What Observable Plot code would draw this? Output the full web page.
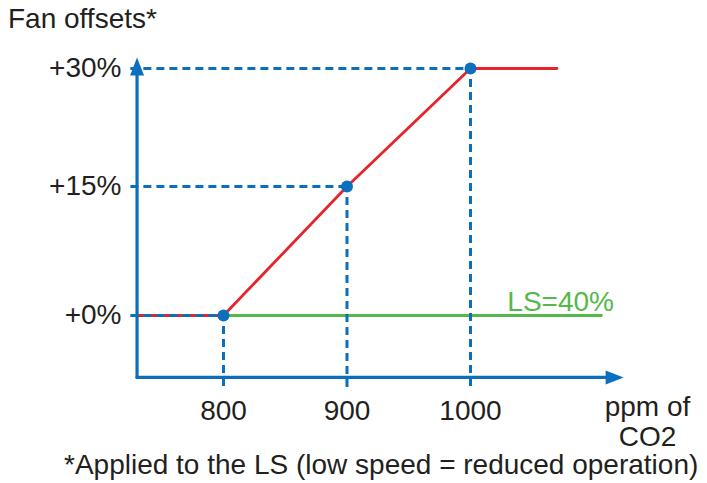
<!DOCTYPE html>
<html>
<head>
<meta charset="utf-8">
<script src="https://cdn.jsdelivr.net/npm/d3@7"></script>
<script src="https://cdn.jsdelivr.net/npm/@observablehq/plot@0.6"></script>
<style>
  body { margin: 0; background: #fff; }
  #wrap { position: relative; width: 707px; height: 483px; font-family: "Liberation Sans", Arial, sans-serif; color: #231f20; }
  #title { position: absolute; left: 8px; top: 4px; font-size: 28px; line-height: 30px; white-space: nowrap; }
  #caption { position: absolute; left: 0; top: 450px; width: 707px; padding-left: 64px; box-sizing: border-box; font-size: 28px; line-height: 30px; white-space: nowrap; }
  #chart { position: absolute; left: 0; top: 0; }
</style>
</head>
<body>
<div id="wrap">
  <div id="chart"></div>
  <div id="title"></div>
  <div id="caption"></div>
</div>
<script>
// ---- data ----
const titleText = "Fan offsets*";
const captionText = "*Applied to the LS (low speed = reduced operation)";
const xAxisLabel = "ppm of\nCO2";
const ppm = [800, 900, 1000];            // breakpoints (x)
const offsets = [0, 15, 30];             // fan offset % at breakpoints (y)
const xTickLabels = ["800", "900", "1000"];
const yTickLabels = ["+0%", "+15%", "+30%"];
const redX = [730, 800, 900, 1000, 1070]; // fan offset curve
const redY = [0, 0, 15, 30, 30];
const greenX = [800, 1106];               // LS = 40% line
const greenY = [0, 0];
const greenLabel = "LS=40%";
const greenLabelX = [1073];
const greenLabelY = [0];
const axisXStart = 730, axisXEnd = 1124;  // x-axis extent (ppm)
const axisYBottom = -7.2, axisYTop = 31.4; // y-axis extent (%)
const guideXStart = 725;                   // horizontal guide start
const guideYEnd = -8.4;                    // vertical guide end

// ---- colours ----
const BLUE = "#0b6fbe", RED = "#e8232b", GREEN = "#55b84a", TEXT = "#231f20";

document.getElementById("title").textContent = titleText;
document.getElementById("caption").textContent = captionText;

const pts = ppm.map((x, i) => ({x, y: offsets[i]}));
const red = redX.map((x, i) => ({x, y: redY[i]}));
const green = greenX.map((x, i) => ({x, y: greenY[i]}));
const hGuides = pts.map(p => ({x1: guideXStart, x2: p.x, y: p.y}));
const vGuides = pts.map(p => ({x: p.x, y1: p.y, y2: guideYEnd}));
const xAxisLine = [{x: axisXStart, y: axisYBottom}, {x: axisXEnd - 8, y: axisYBottom}];
const yAxisLine = [{x: axisXStart, y: axisYBottom}, {x: axisXStart, y: axisYTop - 1}];

// filled arrowhead with its tip at the origin, pointing up
const arrowHead = {
  draw(ctx) {
    ctx.moveTo(0, 0);
    ctx.lineTo(7, 18);
    ctx.lineTo(-7, 18);
    ctx.closePath();
  }
};

const chart = Plot.plot({
  width: 707,
  height: 483,
  marginLeft: 137,
  marginRight: 60,
  marginTop: 40,
  marginBottom: 106,
  style: { fontFamily: "'Liberation Sans', Arial, sans-serif", fontSize: "28px", color: TEXT, background: "transparent", overflow: "visible" },
  x: { type: "linear", domain: [800, 1000], range: [223, 470], axis: null },
  y: { type: "linear", domain: offsets, range: [315, 186, 68], axis: null },
  marks: [
    // red curve
    Plot.line(red, { x: "x", y: "y", stroke: RED, strokeWidth: 2.8 }),
    // green LS line
    Plot.line(green, { x: "x", y: "y", stroke: GREEN, strokeWidth: 2.8 }),
    // dashed guides
    Plot.ruleY(hGuides, { x1: "x1", x2: "x2", y: "y", stroke: BLUE, strokeWidth: 3, strokeDasharray: "8,5" }),
    Plot.ruleX(vGuides, { x: "x", y1: "y1", y2: "y2", stroke: BLUE, strokeWidth: 3, strokeDasharray: "8,5", strokeDashoffset: 2 }),
    // axes lines
    Plot.line(xAxisLine, { x: "x", y: "y", stroke: BLUE, strokeWidth: 3.2 }),
    Plot.line(yAxisLine, { x: "x", y: "y", stroke: BLUE, strokeWidth: 3.2 }),
    Plot.dot([{x: axisXEnd, y: axisYBottom}], { x: "x", y: "y", symbol: arrowHead, rotate: 90, fill: BLUE, stroke: null }),
    Plot.dot([{x: axisXStart, y: axisYTop}], { x: "x", y: "y", symbol: arrowHead, rotate: 0, fill: BLUE, stroke: null }),
    // tick labels
    Plot.axisY(offsets, { anchor: "left", tickSize: 0, tickPadding: 16, tickFormat: d => yTickLabels[offsets.indexOf(d)], label: null, fill: TEXT, fontSize: 28 }),
    Plot.axisX(ppm, { anchor: "bottom", tickSize: 0, tickPadding: 23, tickFormat: d => xTickLabels[ppm.indexOf(d)], label: null, fill: TEXT, fontSize: 28 }),
    // x axis title
    Plot.text([xAxisLabel], { frameAnchor: "bottom-right", text: d => d, textAnchor: "middle", lineAnchor: "top", dy: 17, lineHeight: 1.07, fill: TEXT, fontSize: 28 }),
    // LS label
    Plot.text(greenLabelX.map((x, i) => ({x, y: greenLabelY[i]})), { x: "x", y: "y", text: () => greenLabel, fill: GREEN, lineAnchor: "bottom", dy: -5, fontSize: 28 }),
    // breakpoints
    Plot.dot(pts, { x: "x", y: "y", r: 6, fill: BLUE, stroke: null })
  ]
});
document.getElementById("chart").appendChild(chart);
</script>
</body>
</html>
